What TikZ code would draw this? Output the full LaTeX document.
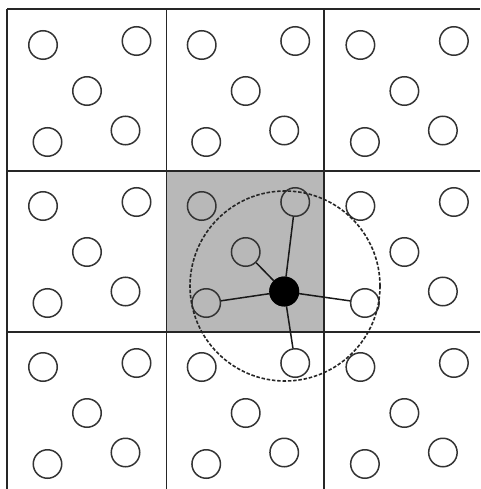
\documentclass[tikz,border=0pt]{standalone}
\begin{document}
\begin{tikzpicture}[x=1pt,y=-1pt,
  ring/.style={circle,draw=black!80,line width=1.5pt,minimum size=28.5pt,inner sep=0pt},
  hubdot/.style={circle,fill=black,draw=black,line width=1.5pt,minimum size=28.5pt,inner sep=0pt},
  gridline/.style={draw=black!85,line width=1.4pt},
  link/.style={draw=black!90,line width=1.5pt},
  reach/.style={draw=black!85,line width=1.6pt,dash pattern=on 3.5pt off 1.8pt}]
\useasboundingbox[fill=white] (0,0) rectangle (480,489);
% shaded centre cell
\fill[black!28] (166.5,171) rectangle (324,332);
% grid
\foreach \x in {7,166.5,324} \draw[gridline] (\x,9) -- (\x,489);
\foreach \y in {9,171,332} \draw[gridline] (7,\y) -- (480,\y);
% particles
\foreach \i in {0,1,2} {
  \foreach \j in {0,1,2} {
    \foreach \k/\dx/\dy in {1/36/36, 2/129.5/32, 3/80/82, 4/40.5/133, 5/118.5/121.5} {
      \node[ring] (n\i\j\k) at ({7+158.7*\i+\dx},{9+161*\j+\dy}) {};
    }
  }
}
% cut-off radius
\node[reach,circle,minimum size=190pt,inner sep=0pt] (cutoff) at (285,286) {};
% central particle and its neighbours
\node[hubdot] (hub) at (n115) {};
\draw[link] (hub) -- (n112);
\draw[link] (hub) -- (n113);
\draw[link] (hub) -- (n114);
\draw[link] (hub) -- (n214);
\draw[link] (hub) -- (n122);
\end{tikzpicture}
\end{document}
